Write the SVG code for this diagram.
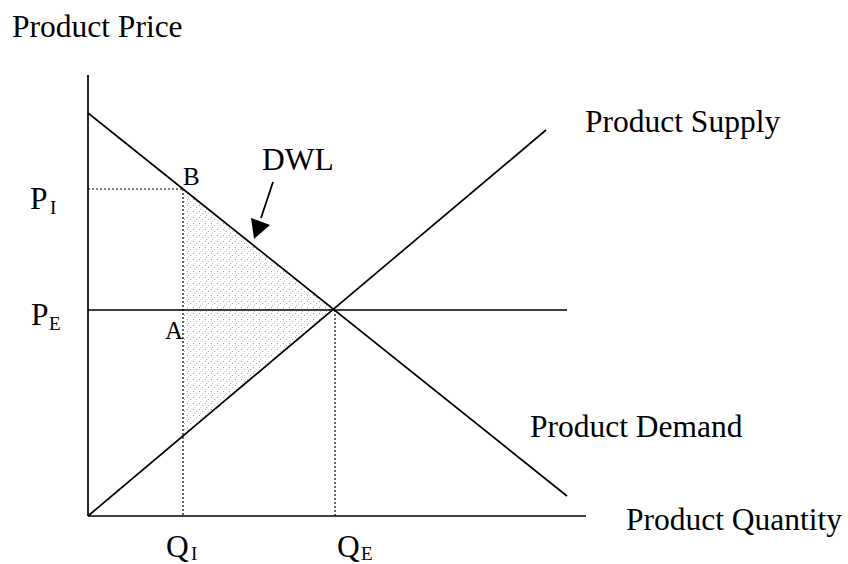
<svg xmlns="http://www.w3.org/2000/svg" width="848" height="564" viewBox="0 0 848 564">
<style>
text{font-family:"Liberation Serif","Times New Roman",serif;fill:#000}
.lbl{font-size:31.5px}
.pt{font-size:25px}
.sub{font-size:19px}
.ln{stroke:#000;stroke-width:1.7;fill:none}
.dot{stroke:#000;stroke-width:1.2;stroke-dasharray:2,2;fill:none}
</style>
<defs>
<pattern id="stip" width="6" height="6" patternUnits="userSpaceOnUse">
<rect x="1" y="1" width="1" height="1" fill="#a0a0a0"/>
<rect x="4" y="3" width="1" height="1" fill="#bdbdbd"/>
<rect x="2" y="5" width="1" height="1" fill="#c8c8c8"/>
</pattern>
</defs>
<g id="dwl-area">
<polygon points="184,190 334,310 184,436" fill="url(#stip)"/>
</g>
<g id="connectors">
<line class="ln" x1="88" y1="75" x2="88" y2="516"/>
<line class="ln" x1="88" y1="516" x2="586" y2="516"/>
<line class="ln" x1="88" y1="113" x2="567" y2="496"/>
<line class="ln" x1="88" y1="516" x2="546" y2="130"/>
<line class="ln" x1="88" y1="310" x2="567" y2="310"/>
<line class="dot" x1="88" y1="189" x2="183" y2="189"/>
<line class="dot" x1="183" y1="189" x2="183" y2="516"/>
<line class="dot" x1="335" y1="310" x2="335" y2="516"/>
<line stroke="#000" stroke-width="1.8" x1="273" y1="182" x2="261" y2="218"/>
<polygon points="251,218 270,225 254,239" fill="#000"/>
</g>
<g id="labels">
<text class="lbl" x="12" y="37">Product Price</text>
<text class="lbl" x="585" y="132">Product Supply</text>
<text class="lbl" x="530" y="437">Product Demand</text>
<text class="lbl" x="626" y="530">Product Quantity</text>
<text class="lbl" x="262" y="170">DWL</text>
<text class="pt" x="183" y="185">B</text>
<text class="pt" x="165" y="339">A</text>
<text class="lbl" x="30" y="209">P</text><text class="sub" x="50" y="214">I</text>
<text class="lbl" x="31" y="325">P</text><text class="sub" x="49" y="330">E</text>
<text class="lbl" x="166" y="557">Q</text><text class="sub" x="191" y="560">I</text>
<text class="lbl" x="337" y="557">Q</text><text class="sub" x="361" y="560">E</text>
</g>
</svg>
